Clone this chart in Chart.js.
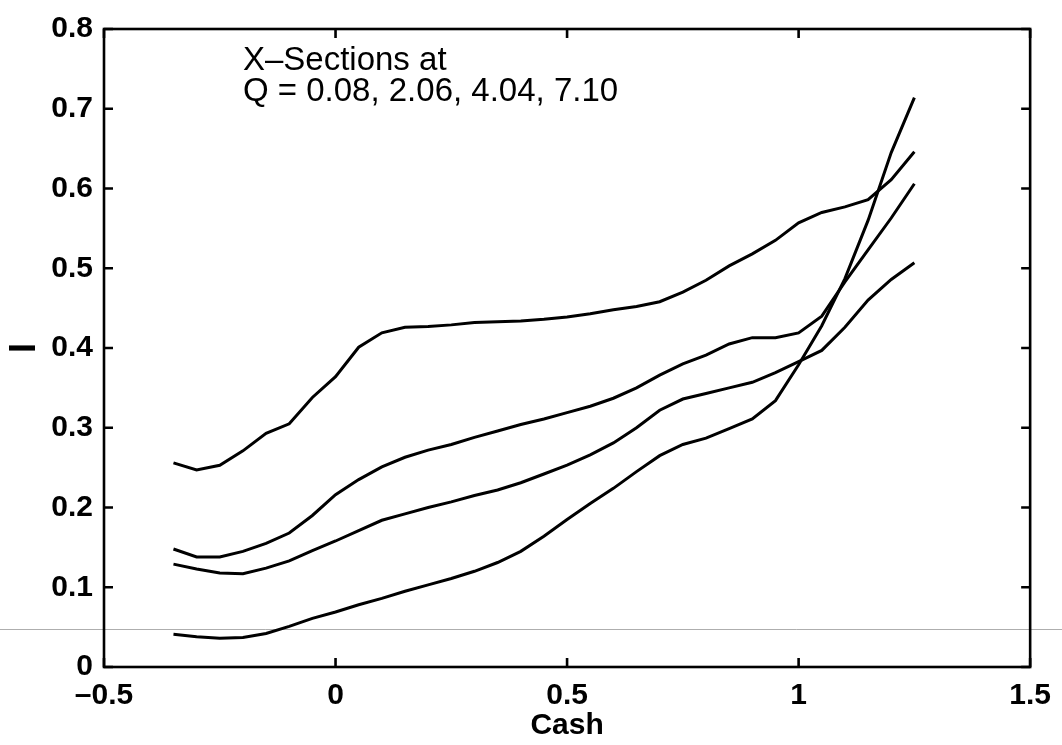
<!DOCTYPE html>
<html>
<head>
<meta charset="utf-8">
<title>X-Sections</title>
<script src="https://cdn.jsdelivr.net/npm/chart.js@4.4.0/dist/chart.umd.min.js"></script>
<style>
  html, body { margin: 0; padding: 0; background: #fff; }
</style>
</head>
<body>
<canvas id="chart" width="1062" height="745"></canvas>
<script>
// ── Data ─────────────────────────────────────────────────────
const cashX = [-0.35, -0.30, -0.25, -0.20, -0.15, -0.10, -0.05, 0.00, 0.05, 0.10, 0.15,
               0.20, 0.25, 0.30, 0.35, 0.40, 0.45, 0.50, 0.55, 0.60, 0.65, 0.70,
               0.75, 0.80, 0.85, 0.90, 0.95, 1.00, 1.05, 1.10, 1.15, 1.20, 1.25];

const iTop = [0.256, 0.247, 0.253, 0.271, 0.293, 0.305, 0.338, 0.364, 0.401, 0.419, 0.426,
              0.427, 0.429, 0.432, 0.433, 0.434, 0.436, 0.439, 0.443, 0.448, 0.452, 0.458,
              0.470, 0.485, 0.503, 0.518, 0.535, 0.557, 0.570, 0.577, 0.586, 0.611, 0.646];

const iUpperMid = [0.148, 0.138, 0.138, 0.145, 0.155, 0.168, 0.190, 0.216, 0.235, 0.251, 0.263,
                   0.272, 0.279, 0.288, 0.296, 0.304, 0.311, 0.319, 0.327, 0.337, 0.350, 0.366,
                   0.380, 0.391, 0.405, 0.413, 0.413, 0.419, 0.440, 0.483, 0.523, 0.563, 0.606];

const iLowerMid = [0.129, 0.123, 0.118, 0.117, 0.124, 0.133, 0.146, 0.158, 0.171, 0.184, 0.192,
                   0.200, 0.207, 0.215, 0.222, 0.231, 0.242, 0.253, 0.266, 0.281, 0.300, 0.322,
                   0.336, 0.343, 0.350, 0.357, 0.369, 0.383, 0.397, 0.426, 0.460, 0.486, 0.507];

const iBottom = [0.041, 0.038, 0.036, 0.037, 0.042, 0.051, 0.061, 0.069, 0.078, 0.086, 0.095,
                 0.103, 0.111, 0.120, 0.131, 0.145, 0.164, 0.185, 0.205, 0.224, 0.245, 0.265,
                 0.279, 0.287, 0.299, 0.311, 0.334, 0.379, 0.428, 0.487, 0.560, 0.645, 0.714];

const xTicks = [-0.5, 0, 0.5, 1, 1.5];
const yTicks = [0, 0.1, 0.2, 0.3, 0.4, 0.5, 0.6, 0.7, 0.8];

const noteLines = ['X\u2013Sections at', 'Q = 0.08, 2.06, 4.04, 7.10'];
const notePos = { x: -0.2, y: 0.75 };
const scanLineY = 0.048;   // faint scanner streak across the page

// ── Helpers ──────────────────────────────────────────────────
const toPoints = ys => cashX.map((x, i) => ({ x, y: ys[i] }));
const fmt = v => (v < 0 ? '\u2013' + Math.abs(v) : String(v));
const FONT = '"Liberation Sans", Arial, Helvetica, sans-serif';

// frame, inward ticks, note text, scan streak
const framePlugin = {
  id: 'frame',
  beforeDatasetsDraw(chart) {
    const { ctx, scales: { y } } = chart;
    const py = Math.round(y.getPixelForValue(scanLineY)) + 0.5;
    ctx.save();
    ctx.strokeStyle = 'rgba(120,120,120,0.6)';
    ctx.lineWidth = 1;
    ctx.beginPath();
    ctx.moveTo(0, py);
    ctx.lineTo(chart.width, py);
    ctx.stroke();
    ctx.restore();
  },
  afterDraw(chart) {
    const { ctx, chartArea: a, scales: { x, y } } = chart;
    const tl = 9;
    ctx.save();
    ctx.strokeStyle = '#000';
    ctx.lineWidth = 2.6;
    ctx.strokeRect(a.left, a.top, a.right - a.left, a.bottom - a.top);
    ctx.beginPath();
    xTicks.forEach(v => {
      const px = x.getPixelForValue(v);
      ctx.moveTo(px, a.bottom); ctx.lineTo(px, a.bottom - tl);
      ctx.moveTo(px, a.top);    ctx.lineTo(px, a.top + tl);
    });
    yTicks.forEach(v => {
      const py = y.getPixelForValue(v);
      ctx.moveTo(a.left, py);  ctx.lineTo(a.left + tl, py);
      ctx.moveTo(a.right, py); ctx.lineTo(a.right - tl, py);
    });
    ctx.stroke();

    // text note
    ctx.fillStyle = '#000';
    ctx.font = '33px ' + FONT;
    ctx.textAlign = 'left';
    ctx.textBaseline = 'alphabetic';
    const nx = x.getPixelForValue(notePos.x);
    const ny = y.getPixelForValue(notePos.y);
    noteLines.forEach((t, i) => ctx.fillText(t, nx, ny + 1 + i * 31));
    ctx.restore();
  }
};

const lineStyle = {
  showLine: true,
  borderColor: '#000',
  borderWidth: 3,
  pointRadius: 0,
  tension: 0,
  fill: false
};

new Chart(document.getElementById('chart'), {
  type: 'scatter',
  data: {
    datasets: [
      { label: 'top',       data: toPoints(iTop),      ...lineStyle },
      { label: 'upper mid', data: toPoints(iUpperMid), ...lineStyle },
      { label: 'lower mid', data: toPoints(iLowerMid), ...lineStyle },
      { label: 'bottom',    data: toPoints(iBottom),   ...lineStyle }
    ]
  },
  options: {
    responsive: false,
    devicePixelRatio: 1,
    animation: false,
    layout: { padding: { top: 18, right: 29, left: 0, bottom: 0 } },
    plugins: {
      legend: { display: false },
      tooltip: { enabled: false }
    },
    scales: {
      x: {
        type: 'linear',
        min: -0.5, max: 1.5,
        afterFit: s => { s.height = 78; },
        afterBuildTicks: s => { s.ticks = xTicks.map(value => ({ value })); },
        grid: { display: false, drawTicks: false },
        border: { display: false },
        ticks: {
          color: '#000',
          padding: 11,
          maxRotation: 0,
          font: { family: FONT, size: 30, weight: 'bold' },
          callback: v => fmt(v)
        },
        title: {
          display: true,
          text: 'Cash',
          color: '#000',
          padding: { top: 0, bottom: 1 },
          font: { family: FONT, size: 30, weight: 'bold' }
        }
      },
      y: {
        type: 'linear',
        min: 0, max: 0.8,
        afterFit: s => { s.width = 104; },
        afterBuildTicks: s => { s.ticks = yTicks.map(value => ({ value })); },
        grid: { display: false, drawTicks: false },
        border: { display: false },
        ticks: {
          color: '#000',
          padding: 11,
          font: { family: FONT, size: 30, weight: 'bold' },
          callback: v => fmt(v)
        },
        title: {
          display: true,
          text: 'I',
          color: '#000',
          padding: { top: 3, bottom: 0 },
          font: { family: FONT, size: 36, weight: 'bold' }
        }
      }
    }
  },
  plugins: [framePlugin]
});
</script>
</body>
</html>
